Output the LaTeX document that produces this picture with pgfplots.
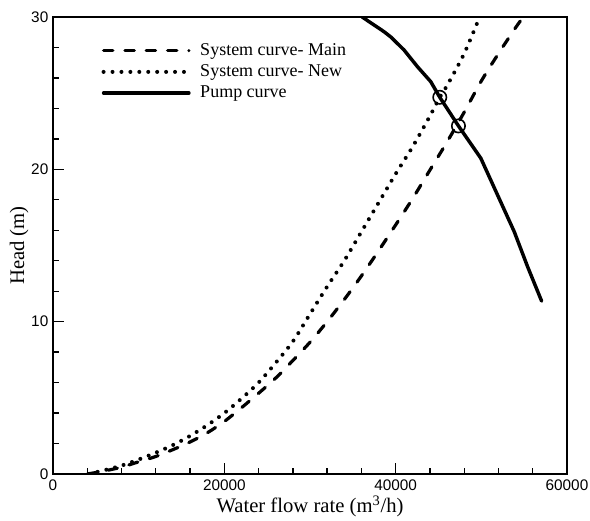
\documentclass[border=0pt]{standalone}
\usepackage{fontspec}
\setmainfont{Liberation Serif}
\setsansfont{Liberation Sans}
\usepackage{pgfplots}
\pgfplotsset{compat=1.18}
\begin{document}
\begin{tikzpicture}
\useasboundingbox (-39.75pt,-35.25pt) rectangle (402.75pt,355.5pt);
\begin{axis}[
  at={(0,0)}, anchor=south west,
  scale only axis,
  width=385.5pt, height=342.75pt,
  xmin=0, xmax=60000, ymin=0, ymax=30,
  xtick={0,20000,40000,60000},
  minor xtick={4000,8000,12000,16000,24000,28000,32000,36000,44000,48000,52000,56000},
  ytick={0,10,20,30},
  minor ytick={2,4,6,8,12,14,16,18,22,24,26,28},
  scaled ticks=false,
  /pgf/number format/set thousands separator={},
  /pgf/number format/assume math mode=true,
  tick align=inside,
  xtick pos=left, ytick pos=left,
  major tick length=8pt, minor tick length=4.5pt,
  every tick/.style={black, line width=1pt},
  axis line style={line width=1.6pt},
  ticklabel style={font=\sffamily\fontsize{11.5}{13}\selectfont},
  xticklabel style={yshift=-1pt},
  xlabel={Water flow rate (m\textsuperscript{3}/h)},
  ylabel={Head (m)},
  label style={font=\fontsize{15.5}{18}\selectfont},
  xlabel style={at={(axis description cs:0.5,-0.071)}, anchor=center},
  ylabel style={at={(axis description cs:-0.066,0.5)}, anchor=center},
  legend cell align=left,
  legend style={draw=none, fill=none, inner sep=0pt,
    at={(0.094,0.948)}, anchor=north west,
    font=\fontsize{13.5}{15}\selectfont, row sep=1.5pt,
    /tikz/every odd column/.append style={column sep=5pt}},
  legend image code/.code={\draw[#1] (0pt,0pt) -- (64pt,0pt);},
]
\addplot[black, line width=2.4pt, line cap=round, dash pattern=on 7pt off 9pt, smooth] coordinates {
(4000,0) (6000,0.2) (8000,0.45) (10000,0.8) (12000,1.15) (14000,1.6)
(16000,2.1) (18000,2.7) (20000,3.45) (22000,4.35) (24000,5.3) (26000,6.3)
(28000,7.45) (30000,8.65) (32000,10.0) (34000,11.45) (36000,13.0)
(38000,14.65) (40000,16.35) (42000,18.1) (44000,19.95) (46000,21.8)
(48000,23.75) (50000,25.8) (52000,27.6) (54000,29.3) (54900,30)
};
\addlegendentry{System curve- Main}
\addplot[black, line width=3pt, line cap=round, dash pattern=on 0pt off 6.7pt, smooth] coordinates {
(4200,0) (6000,0.25) (8000,0.55) (10000,0.95) (12000,1.4) (14000,1.9)
(16000,2.5) (18000,3.2) (20000,4.0) (22000,4.95) (24000,6.0) (26000,7.3)
(28000,8.7) (30000,10.5) (32000,12.3) (34000,14.0) (36000,15.9)
(38000,17.8) (40000,19.7) (42000,21.5) (44000,23.5) (45150,24.73)
(46000,25.5) (48000,27.6) (49800,30)
};
\addlegendentry{System curve- New}
\addplot[black, line width=2.6pt, line join=round, line cap=round] coordinates {
(36100,30) (36880,29.7) (38630,29.04) (39410,28.7) (40970,27.84)
(42540,26.74) (44090,25.76) (45150,24.73) (47330,22.85) (49940,20.73)
(51890,18.32) (53840,15.91) (55400,13.61) (57040,11.35)
};
\addlegendentry{Pump curve}
\addplot[only marks, mark=o, mark size=5pt, mark options={line width=1.2pt, black}, forget plot] coordinates {
(45150,24.73) (47330,22.85)
};
\end{axis}
\end{tikzpicture}
\end{document}
